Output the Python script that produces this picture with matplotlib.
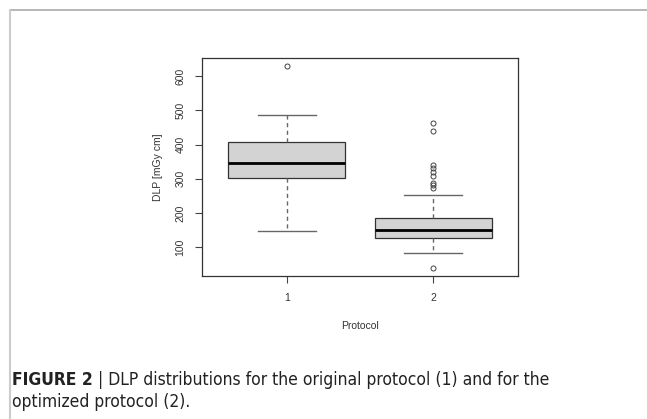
import numpy as np
import matplotlib
matplotlib.use("Agg")
import matplotlib.pyplot as plt
from matplotlib.lines import Line2D

plt.rcParams['font.family'] = ['Liberation Sans', 'DejaVu Sans']

# DLP summary statistics per protocol
protocols = ["1", "2"]
q1 = [302, 127]
medians = [346, 149]
q3 = [409, 185]
whisker_low = [146, 82]
whisker_high = [487, 252]
outliers_p1 = [630]
outliers_p2 = [464, 439, 341, 331, 320, 309, 288, 283, 272, 39]
yticks = [100, 200, 300, 400, 500, 600]

stats = []
for i, name in enumerate(protocols):
    stats.append({
        "label": name,
        "q1": q1[i], "med": medians[i], "q3": q3[i],
        "whislo": whisker_low[i], "whishi": whisker_high[i],
        "fliers": [outliers_p1, outliers_p2][i],
    })

fig = plt.figure(figsize=(6.47, 4.19), dpi=100)
ax = fig.add_axes([0.3122, 0.3413, 0.4884, 0.5203])

ax.bxp(stats, positions=[1, 2], widths=0.8, patch_artist=True,
       boxprops=dict(facecolor="#d3d3d3", edgecolor="#333333", linewidth=0.9),
       medianprops=dict(color="black", linewidth=2.0),
       whiskerprops=dict(color="#666666", linestyle=(0, (3, 2.5)), linewidth=1.0),
       capprops=dict(color="#666666", linewidth=1.0),
       flierprops=dict(marker="o", markersize=3.6, markerfacecolor="none",
                       markeredgecolor="#444444", markeredgewidth=0.7),
       capwidths=0.4)

all_vals = whisker_low + whisker_high + outliers_p1 + outliers_p2
lo, hi = min(all_vals), max(all_vals)
pad = 0.04 * (hi - lo)
ax.set_ylim(lo - pad, hi + pad)
ax.set_xlim(0.42, 2.58)

ax.set_yticks(yticks)
ax.set_yticklabels([str(t) for t in yticks], rotation=90, va="center")
ax.set_xticks([1, 2])
ax.set_xticklabels(protocols)
ax.tick_params(axis="both", labelsize=7.5, color="#444444", labelcolor="#333333",
               length=5, width=0.8)
ax.tick_params(axis="y", pad=7)
ax.tick_params(axis="x", pad=7)
for s in ax.spines.values():
    s.set_color("#333333")
    s.set_linewidth(0.9)

ax.set_ylabel("DLP [mGy cm]", fontsize=7.5, color="#333333", labelpad=9)
ax.set_xlabel("Protocol", fontsize=7.5, color="#333333", labelpad=13)

# frame lines of the figure panel
fig.add_artist(Line2D([10 / 647, 1], [1 - 10.5 / 419, 1 - 10.5 / 419],
                      transform=fig.transFigure, color="#aaaaaa", linewidth=1.2))
fig.add_artist(Line2D([10 / 647, 10 / 647], [0, 1 - 10.5 / 419],
                      transform=fig.transFigure, color="#cccccc", linewidth=1.5))

cap_kw = dict(fontsize=12.5, family="DejaVu Sans", fontstretch="condensed", color="#222222")
t1 = fig.text(12 / 647, 1 - 385 / 419, "FIGURE 2", fontweight="bold", **cap_kw)
fig.canvas.draw()
bb = t1.get_window_extent()
fig.text((bb.x1 + 5) / 647, 1 - 385 / 419,
         "| DLP distributions for the original protocol (1) and for the", **cap_kw)
fig.text(12 / 647, 1 - 407 / 419, "optimized protocol (2).", **cap_kw)

fig.savefig("out.png", dpi=100)
